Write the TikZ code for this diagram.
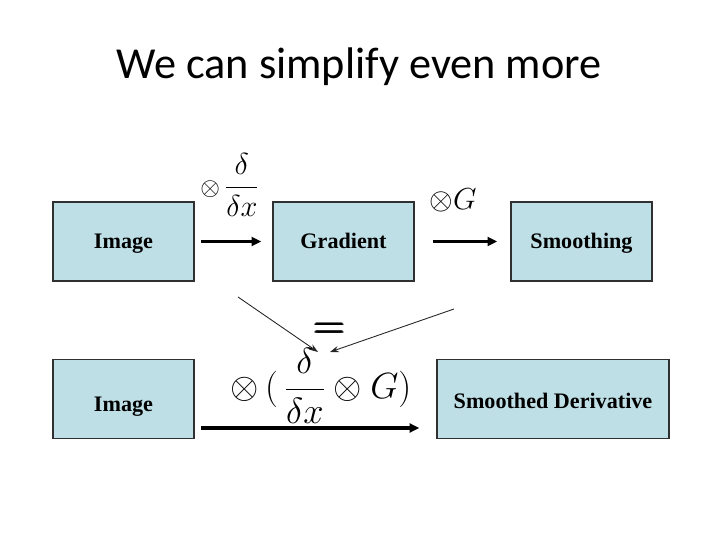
\documentclass[tikz,border=0pt]{standalone}
\usepackage{amsmath,amssymb}
\usepackage{fontspec}
\setmainfont{Liberation Serif}
\newfontfamily\titlefont{Carlito}
\usepackage{tikz}
\usetikzlibrary{arrows.meta,positioning}
\definecolor{boxblue}{HTML}{BEDFE5}
\definecolor{boxline}{HTML}{303030}
\tikzset{
  blknode/.style={rectangle,draw=boxline,fill=boxblue,line width=0.9pt,minimum width=2.82cm,minimum height=1.58cm,inner sep=1pt,text height=8pt,text depth=0pt,font=\fontsize{12.6}{14}\selectfont\bfseries},
  flowedge/.style={-{Triangle[length=5.5pt,width=5pt]},line width=1.7pt,black},
  noteedge/.style={-{Stealth[length=5pt,width=3.5pt]},line width=0.5pt,black!85},
  oplabel/.style={inner sep=0pt},
}

\begin{document}
\begin{tikzpicture}[x=0.02cm,y=-0.02cm]
    \useasboundingbox (0,0) rectangle (720,540);
    \node[font=\titlefont\fontsize{25.2}{30}\selectfont] (title) at (359,67) {We can simplify even more};
    % upper chain
    \node[blknode] (img) at (123.5,241.5) {Image};
    \node[blknode] (grad) at (343.5,241.5) {Gradient};
    \node[blknode] (smooth) at (581.5,241.5) {Smoothing};
    % lower chain
    \node[blknode,text height=14.5pt] (img2) at (123.5,399) {Image};
    \node[blknode,text height=10.5pt,minimum width=4.64cm] (smoothder) at (553,399) {Smoothed Derivative};
    \coordinate (lowrow) at (0,428);
    \draw[flowedge,shorten <=3.4pt,shorten >=6.2pt] (img) -- (grad);
    \draw[flowedge,shorten <=10.2pt,shorten >=7.4pt] (grad) -- (smooth);
    \draw[flowedge,line width=2.1pt,shorten <=3.4pt,shorten >=9.6pt] (img2.east |- lowrow) -- (smoothder.west |- lowrow);
    % operators
    \node[oplabel,font=\fontsize{14}{16}\selectfont] (dlabel) at (230,185) {$\otimes$\,{\fontsize{16.5}{18}\selectfont$\displaystyle\frac{\delta}{\delta x}$}};
    \node[oplabel,font=\fontsize{17}{20}\selectfont] (glabel) at (453,200) {$\otimes G$};
    \node[oplabel,font=\fontsize{23}{24}\selectfont] (eqsign) at (330,331) {$\pmb{=}$};
    \node[oplabel,font=\fontsize{19.5}{20}\selectfont] (combo) at (321,386) {$\displaystyle\otimes\,(\,\frac{\delta}{\delta x}\otimes G)$};
    \coordinate (fromleft) at (238,297);
    \coordinate (fromright) at (454,309);
    \coordinate (toleft) at (318,352);
    \coordinate (toright) at (330,352);
    \draw[noteedge] (fromleft) -- (toleft);
    \draw[noteedge] (fromright) -- (toright);
\end{tikzpicture}
\end{document}
